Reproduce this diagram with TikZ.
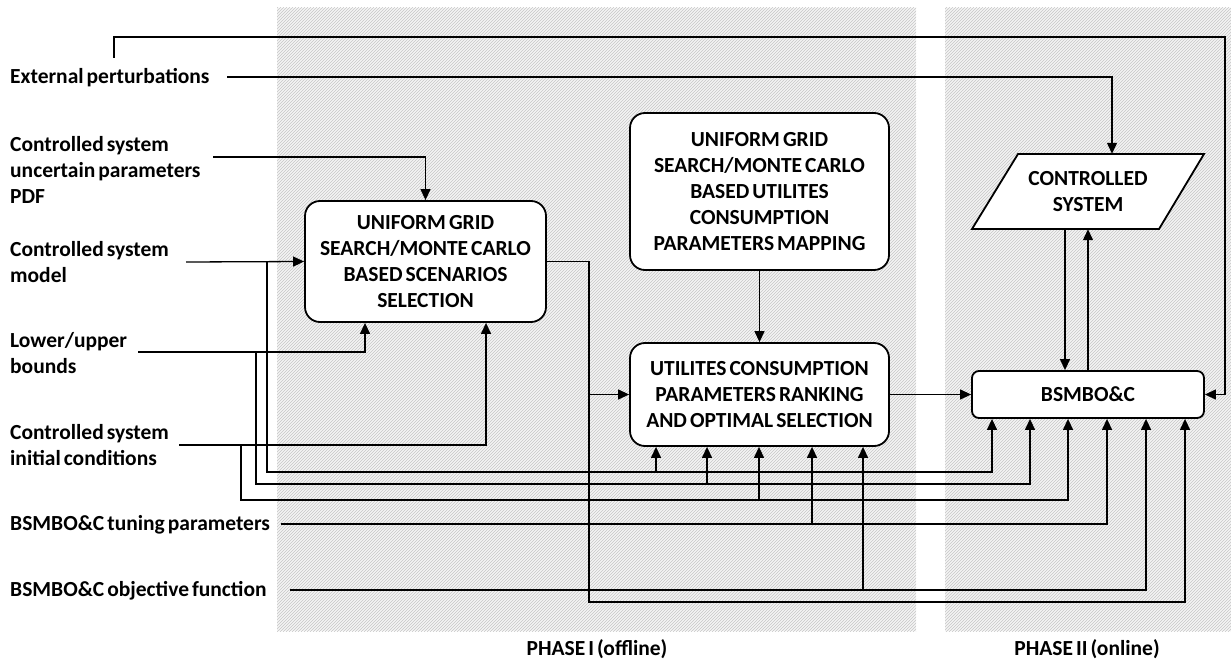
\documentclass[tikz,border=0pt]{standalone}
\usepackage{fontspec}
\setmainfont{Carlito}
\usetikzlibrary{arrows.meta,patterns,calc}
\newcommand{\diagfont}{\bfseries\fontsize{21.5}{26}\selectfont\spaceskip=0.14em plus 0.03em minus 0.02em\relax}
\begin{document}
\begin{tikzpicture}[x=1pt,y=-1pt,
  every node/.style={font=\diagfont},
  lab/.style={anchor=west,align=left,inner sep=0pt},
  blk/.style={draw,line width=1.8pt,rounded corners=15pt,fill=white,align=center,inner sep=0pt},
  wire/.style={line width=1.3pt},
  arr/.style={wire,-{Triangle[length=11pt,width=10pt]}},
  phase/.style={fill=gray!9},
  hatch/.style={pattern=north east lines,pattern color=gray!45}
]
\useasboundingbox (0,0) rectangle (1231,663);
% phases background
\fill[phase] (277,8) rectangle (916,631);
\fill[hatch] (277,8) rectangle (916,631);
\fill[phase] (945,8) rectangle (1231,631);
\fill[hatch] (945,8) rectangle (1231,631);

% left labels
\node[lab] (lep) at (10,78) {External perturbations};
\node[lab] (lpdf) at (10,170) {Controlled system\\uncertain parameters\\PDF};
\node[lab] (lmod) at (10,262.5) {Controlled system\\model};
\node[lab] (llb) at (10,353.5) {Lower/upper\\bounds};
\node[lab] (lic) at (10,445.5) {Controlled system\\initial conditions};
\node[lab] (ltp) at (10,525) {BSMBO\&C tuning parameters};
\node[lab] (lof) at (10,591) {BSMBO\&C objective function};

% connector starts
\coordinate (tp) at (114,58);
\coordinate (ep) at (227,77);
\coordinate (pdf) at (213,157);
\coordinate (mod) at (186,262);
\coordinate (lb) at (138,352);
\coordinate (ic) at (179,445);
\coordinate (tn) at (281,524);
\coordinate (of) at (290,590);

% blocks
\node[blk,minimum width=241pt,minimum height=121pt] (b1) at (425.5,261.5)
  {UNIFORM GRID\\SEARCH/MONTE CARLO\\BASED SCENARIOS\\SELECTION};
\node[blk,minimum width=259pt,minimum height=157pt] (b2) at (759.5,191.5)
  {UNIFORM GRID\\SEARCH/MONTE CARLO\\BASED UTILITES\\CONSUMPTION\\PARAMETERS MAPPING};
\node[blk,minimum width=259pt,minimum height=103pt] (b3) at (759.5,394.5)
  {UTILITES CONSUMPTION\\PARAMETERS RANKING\\AND OPTIMAL SELECTION};
\node[blk,rounded corners=7pt,minimum width=232pt,minimum height=47pt] (bs) at (1088,394.5) {BSMBO\&C};

% controlled system parallelogram
\draw[line width=1.8pt,fill=white] (1018,154) -- (1204,154) -- (1159,229) -- (972,229) -- cycle;
\node[align=center,inner sep=0pt,minimum width=232pt,minimum height=75pt] (cs) at (1088,191.5) {CONTROLLED\\SYSTEM};

% connectors
\draw[arr] (tp) |- (1225,37) |- (bs.east);
\draw[arr] (ep) -| (cs.north -| 1112,0);
\draw[arr] (pdf) -| (b1.north);
\draw[arr] (mod) -- (b1.west);
\draw[arr] (lb) -| (b1.south -| 365,0);
\draw[arr] (ic) -| (b1.south -| 486,0);

\draw[arr] (267,262) |- (656,472) -- (b3.south -| 656,0);
\draw[arr] (656,472) -| (bs.south -| 992,0);
\draw[arr] (256,352) |- (707,484) -- (b3.south -| 707,0);
\draw[arr] (707,484) -| (bs.south -| 1030,0);
\draw[arr] (241,445) |- (759,500) -- (b3.south -| 759,0);
\draw[arr] (759,500) -| (bs.south -| 1068,0);
\draw[arr] (tn) -| (b3.south -| 812,0);
\draw[arr] (812,524) -| (bs.south -| 1107,0);
\draw[arr] (of) -| (b3.south -| 863,0);
\draw[arr] (863,590) -| (bs.south -| 1146,0);

\draw[arr] (b1.east) -| (589,602) -| (bs.south -| 1185,0);
\draw[arr] (589,394.5) -- (b3.west);
\draw[arr] (b2.south) -- (b3.north);
\draw[arr] (b3.east) -- (bs.west);
\draw[arr] (cs.south -| 1065,0) -- (bs.north -| 1065,0);
\draw[arr] (bs.north -| 1088,0) -- (cs.south -| 1088,0);

% phase labels
\node (p1) at (597,649) {PHASE I (offline)};
\node (p2) at (1087,649) {PHASE II (online)};
\end{tikzpicture}
\end{document}
